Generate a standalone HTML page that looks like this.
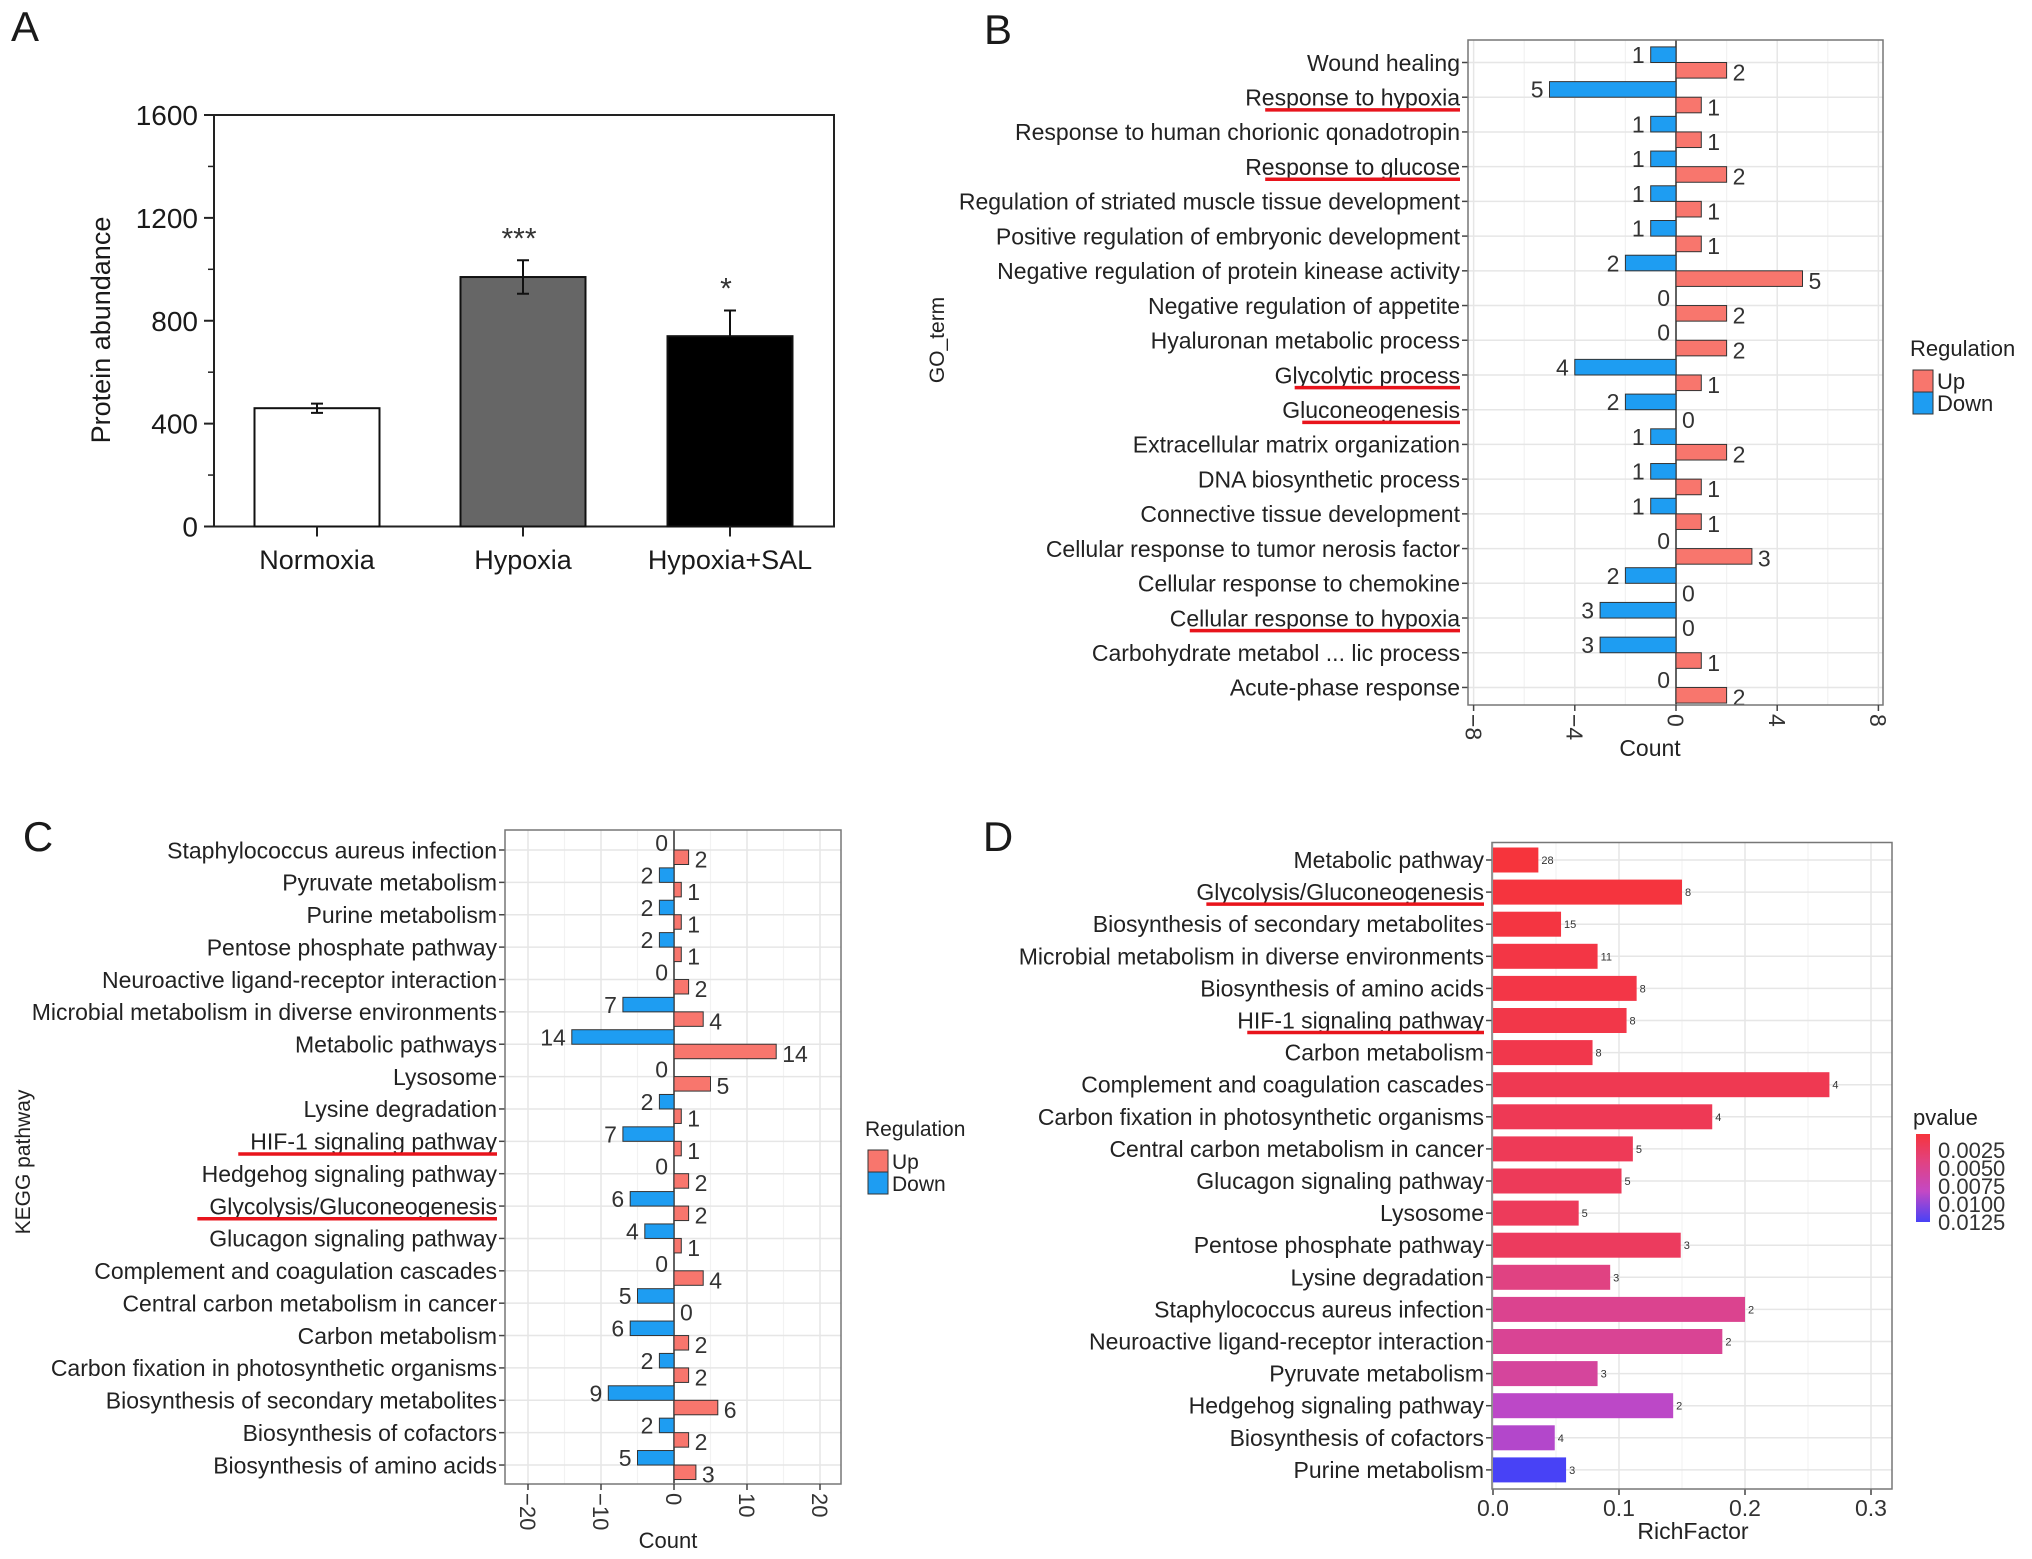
<!DOCTYPE html>
<html><head><meta charset="utf-8"><style>
html,body{margin:0;padding:0;background:#fff;}
svg{display:block;font-family:"Liberation Sans",sans-serif;}
</style></head><body>
<svg id="fig" xmlns="http://www.w3.org/2000/svg" width="2032" height="1559" viewBox="0 0 2032 1559"></svg>
<script>
// ---------- Panel A data ----------
const aCategories = ["Normoxia","Hypoxia","Hypoxia+SAL"];
const aValues = [460, 970, 740];
const aErrors = [18, 65, 100];
const aStars = ["", "***", "*"];
const aTicks = [0, 400, 800, 1200, 1600];
// ---------- Panel B data ----------
const bTerms = ["Wound healing","Response to hypoxia","Response to human chorionic qonadotropin","Response to glucose","Regulation of striated muscle tissue development","Positive regulation of embryonic development","Negative regulation of protein kinease activity","Negative regulation of appetite","Hyaluronan metabolic process","Glycolytic process","Gluconeogenesis","Extracellular matrix organization","DNA biosynthetic process","Connective tissue development","Cellular response to tumor nerosis factor","Cellular response to chemokine","Cellular response to hypoxia","Carbohydrate metabol ... lic process","Acute-phase response"];
const bDown = [1,5,1,1,1,1,2,0,0,4,2,1,1,1,0,2,3,3,0];
const bUp = [2,1,1,2,1,1,5,2,2,1,0,2,1,1,3,0,0,1,2];
const bUnderlined = ["Response to hypoxia","Response to glucose","Glycolytic process","Gluconeogenesis","Cellular response to hypoxia"];
const bTicks = [-8,-4,0,4,8];
// ---------- Panel C data ----------
const cTerms = ["Staphylococcus aureus infection","Pyruvate metabolism","Purine metabolism","Pentose phosphate pathway","Neuroactive ligand-receptor interaction","Microbial metabolism in diverse environments","Metabolic pathways","Lysosome","Lysine degradation","HIF-1 signaling pathway","Hedgehog signaling pathway","Glycolysis/Gluconeogenesis","Glucagon signaling pathway","Complement and coagulation cascades","Central carbon metabolism in cancer","Carbon metabolism","Carbon fixation in photosynthetic organisms","Biosynthesis of secondary metabolites","Biosynthesis of cofactors","Biosynthesis of amino acids"];
const cDown = [0,2,2,2,0,7,14,0,2,7,0,6,4,0,5,6,2,9,2,5];
const cUp = [2,1,1,1,2,4,14,5,1,1,2,2,1,4,0,2,2,6,2,3];
const cUnderlined = ["HIF-1 signaling pathway","Glycolysis/Gluconeogenesis"];
const cTicks = [-20,-10,0,10,20];
// ---------- Panel D data ----------
const dTerms = ["Metabolic pathway","Glycolysis/Gluconeogenesis","Biosynthesis of secondary metabolites","Microbial metabolism in diverse environments","Biosynthesis of amino acids","HIF-1 signaling pathway","Carbon metabolism","Complement and coagulation cascades","Carbon fixation in photosynthetic organisms","Central carbon metabolism in cancer","Glucagon signaling pathway","Lysosome","Pentose phosphate pathway","Lysine degradation","Staphylococcus aureus infection","Neuroactive ligand-receptor interaction","Pyruvate metabolism","Hedgehog signaling pathway","Biosynthesis of cofactors","Purine metabolism"];
const dRich = [0.036,0.150,0.054,0.083,0.114,0.106,0.079,0.267,0.174,0.111,0.102,0.068,0.149,0.093,0.200,0.182,0.083,0.143,0.049,0.058];
const dCount = [28,8,15,11,8,8,8,4,4,5,5,5,3,3,2,2,3,2,4,3];
const dP = [0.0003,0.0004,0.0006,0.0008,0.0009,0.001,0.0012,0.0015,0.0017,0.0018,0.0019,0.002,0.0022,0.0042,0.0050,0.0053,0.0058,0.0085,0.0088,0.0125];
const dUnderlined = ["Glycolysis/Gluconeogenesis","HIF-1 signaling pathway"];
const dTicks = [0,0.1,0.2,0.3];
const dLegendTicks = ["0.0025","0.0050","0.0075","0.0100","0.0125"];

const NS = "http://www.w3.org/2000/svg";
const svg = document.getElementById("fig");
function mk(tag, attrs, parent){
  const e = document.createElementNS(NS, tag);
  for (const k in attrs) e.setAttribute(k, attrs[k]);
  (parent||svg).appendChild(e);
  return e;
}
function txt(s, x, y, size, anchor, parent, extra){
  const a = {x:x, y:y, "font-size":size, "text-anchor":anchor||"start", fill:"#1a1a1a"};
  if (extra) for (const k in extra) a[k]=extra[k];
  const e = mk("text", a, parent);
  e.textContent = s;
  return e;
}
const UP="#F8766D", DOWN="#1E9DF2";

// ================= Panel letters =================
[["A",25,41],["B",998,44],["C",38,851],["D",998,851]].forEach(function(p){
  const t = txt(p[0], p[1], p[2], 42, "middle");
  
  
});

// ================= Panel A =================
(function(){
  const g = mk("g", {});
  
  
  const L=214, R=834, T=115, B=526.5, max=1600;
  const y = v => B - (v/max)*(B-T);
  const cx = [317, 523, 730];
  const fills = ["#ffffff","#666666","#000000"];
  const bw = 125;
  const frame = mk("rect",{x:L,y:T,width:R-L,height:B-T,fill:"none",stroke:"#222","stroke-width":2},g);
  
  
  aTicks.forEach(function(t){
    const l = mk("line",{x1:L-10,x2:L,y1:y(t),y2:y(t),stroke:"#222","stroke-width":2},g);
    
    
    const lb = txt(String(t), L-16, y(t)+10, 28, "end", g);
    
    
  });
  for (let t=200;t<1600;t+=400){
    const l = mk("line",{x1:L-6,x2:L,y1:y(t),y2:y(t),stroke:"#222","stroke-width":1.5},g);
    
    
  }
  aCategories.forEach(function(c,i){
    const r = mk("rect",{x:cx[i]-bw/2,y:y(aValues[i]),width:bw,height:B-y(aValues[i]),fill:fills[i],stroke:"#111","stroke-width":2},g);
    
    
    const top = y(aValues[i]+aErrors[i]);
    const bot = i===2 ? y(aValues[i]) : y(aValues[i]-aErrors[i]);
    const eb = mk("path",{d:"M"+cx[i]+" "+top+"V"+bot+"M"+(cx[i]-6)+" "+top+"H"+(cx[i]+6)+(i===2?"":"M"+(cx[i]-6)+" "+bot+"H"+(cx[i]+6)),stroke:"#111","stroke-width":2,fill:"none"},g);
    
    
    const tk = mk("line",{x1:cx[i],x2:cx[i],y1:B,y2:B+10,stroke:"#222","stroke-width":2},g);
    
    
    const lb = txt(c, cx[i], 569, 27, "middle", g);
    
    
    if (aStars[i]){
      const s = txt(aStars[i], cx[i]-4, top - 12, 30, "middle", g, {fill:"#333"});
      
      
    }
  });
  const yt = txt("Protein abundance", 0, 0, 27, "middle", g, {transform:"translate(110,330) rotate(-90)"});
  
  
})();

// ================= Diverging bar panels (B, C) =================
function diverging(opts){
  const g = mk("g", {});
  
  
  const o = opts;
  const X = v => o.x0 + v*o.unit;
  const bg = mk("rect",{x:o.L,y:o.T,width:o.R-o.L,height:o.B-o.T,fill:"#fff"},g);
  
  
  o.ticks.forEach(function(t,i){
    if (i<o.ticks.length-1){
      const m=(t+o.ticks[i+1])/2;
      const gl = mk("line",{x1:X(m),x2:X(m),y1:o.T,y2:o.B,stroke:"#f2f2f2","stroke-width":1.2},g);
      
      
    }
    const gl2 = mk("line",{x1:X(t),x2:X(t),y1:o.T,y2:o.B,stroke:"#e6e6e6","stroke-width":1.5},g);
    
    
  });
  o.terms.forEach(function(t,i){
    const yy = o.y0 + i*o.step;
    const gl = mk("line",{x1:o.L,x2:o.R,y1:yy,y2:yy,stroke:"#e6e6e6","stroke-width":1.5},g);
    
    
  });
  const zl = mk("line",{x1:X(0),x2:X(0),y1:o.T,y2:o.B,stroke:"#333","stroke-width":1.5},g);
  
  
  o.terms.forEach(function(t,i){
    const yy = o.y0 + i*o.step;
    const d = o.down[i], u = o.up[i];
    const rd = mk("rect",{x:X(-d),y:yy-o.bw,width:X(0)-X(-d),height:o.bw,fill:DOWN,stroke:"#333","stroke-width":1},g);
    
    
    const ru = mk("rect",{x:X(0),y:yy,width:X(u)-X(0),height:o.bw,fill:UP,stroke:"#333","stroke-width":1},g);
    
    
    const ld = txt(String(d), X(-d)-6, yy-o.bw/2+o.vfs*0.36, o.vfs, "end", g, {fill:"#333"});
    
    
    const lu = txt(String(u), X(u)+6, yy+o.bw/2+o.vfs*0.36+2, o.vfs, "start", g, {fill:"#333"});
    
    
    const tk = mk("line",{x1:o.L-6,x2:o.L,y1:yy,y2:yy,stroke:"#444","stroke-width":1.5},g);
    
    
    const lb = txt(t, o.L-8, yy+o.fs*0.36, o.fs, "end", g, {fill:"#222"});
    
    
    if (o.under.indexOf(t)>=0){
      const w = lb.getComputedTextLength ? lb.getComputedTextLength() : t.length*o.fs*0.5;
      const ul = mk("line",{x1:o.L-8-w-o.ulExtra,x2:o.L-8,y1:yy+o.fs*0.55,y2:yy+o.fs*0.55,stroke:"#e8141c","stroke-width":3.5},g);
      
      
    }
  });
  const fr = mk("rect",{x:o.L,y:o.T,width:o.R-o.L,height:o.B-o.T,fill:"none",stroke:"#777","stroke-width":1.5},g);
  
  
  o.ticks.forEach(function(t){
    const tk = mk("line",{x1:X(t),x2:X(t),y1:o.B,y2:o.B+6,stroke:"#444","stroke-width":1.5},g);
    
    
    const lb = txt(t<0?"\u2212"+(-t):String(t), 0, 0, o.tfs, "start", g, {fill:"#333",transform:"translate("+(X(t)-o.tfs*0.36)+","+(o.B+9)+") rotate(90)"});
    
    
  });
  const xt = txt("Count", o.xtX, o.xtY, o.tfs, "middle", g, {fill:"#222"});
  
  
  const yt = txt(o.ytitle, 0, 0, o.yfs, "middle", g, {fill:"#222",transform:"translate("+o.ytX+","+o.ytY+") rotate(-90)"});
  
  
  // legend
  const lg = mk("g",{},g);
  
  
  const lt = txt("Regulation", o.lgX, o.lgY, o.tfs-1, "start", lg, {fill:"#222"});
  
  
  [["Up",UP],["Down",DOWN]].forEach(function(e,k){
    const ry = o.lgY+14+k*22;
    const r = mk("rect",{x:o.lgX+3,y:ry,width:20,height:22,fill:e[1],stroke:"#333","stroke-width":1},lg);
    
    
    const tl = txt(e[0], o.lgX+27, ry+19, o.tfs-1, "start", lg, {fill:"#222"});
    
    
  });
}
diverging({name:"panel-b-go-terms", terms:bTerms, down:bDown, up:bUp, under:bUnderlined, ticks:bTicks,
  L:1468,R:1883,T:40,B:705,x0:1676,unit:25.3,y0:62.5,step:34.72,bw:15.6,fs:23,vfs:23,tfs:23,yfs:21,ulExtra:-20,
  xtX:1650,xtY:756,ytitle:"GO_term",ytX:944,ytY:340,lgX:1910,lgY:356});
diverging({name:"panel-c-kegg-pathways", terms:cTerms, down:cDown, up:cUp, under:cUnderlined, ticks:cTicks,
  L:505,R:841,T:830,B:1484,x0:674,unit:7.3,y0:850,step:32.37,bw:14.5,fs:23,vfs:23,tfs:22,yfs:21,ulExtra:12,
  xtX:668,xtY:1548,ytitle:"KEGG pathway",ytX:30,ytY:1162,lgX:865,lgY:1136});

// ================= Panel D =================
(function(){
  const g = mk("g", {});
  
  
  const L=1492,R=1892,T=842.5,B=1489,x0=1493,per=1260,y0=860,step=32.1,bh=25;
  const X = v => x0 + v*per;
  const pMin=0.0003,pMax=0.0125;
  const stops=[[0,[246,52,60]],[0.3,[226,66,126]],[0.65,[196,72,196]],[1,[72,66,246]]];
  function col(p){
    let t=(p-pMin)/(pMax-pMin); t=Math.max(0,Math.min(1,t));
    for(let k=0;k<stops.length-1;k++){
      if(t<=stops[k+1][0]){
        const f=(t-stops[k][0])/(stops[k+1][0]-stops[k][0]);
        const a=stops[k][1], b=stops[k+1][1];
        return "rgb("+a.map((v,j)=>Math.round(v+(b[j]-v)*f)).join(",")+")";
      }
    }
    return "rgb(72,66,246)";
  }
  dTicks.forEach(function(t,i){
    const m=t+0.05;
    if (X(m)<R){
      const gl = mk("line",{x1:X(m),x2:X(m),y1:T,y2:B,stroke:"#f2f2f2","stroke-width":1.2},g);
      
      
    }
    const gl2 = mk("line",{x1:X(t),x2:X(t),y1:T,y2:B,stroke:"#e6e6e6","stroke-width":1.5},g);
    
    
    const tk = mk("line",{x1:X(t),x2:X(t),y1:B,y2:B+6,stroke:"#444","stroke-width":1.5},g);
    
    
    const lb = txt(t.toFixed(1), X(t), 1516, 23, "middle", g, {fill:"#333"});
    
    
  });
  dTerms.forEach(function(t,i){
    const yy=y0+i*step;
    const gl = mk("line",{x1:L,x2:R,y1:yy,y2:yy,stroke:"#e6e6e6","stroke-width":1.5},g);
    
    
    const r = mk("rect",{x:X(0),y:yy-bh/2,width:X(dRich[i])-X(0),height:bh,fill:col(dP[i])},g);
    
    
    const cl = txt(String(dCount[i]), X(dRich[i])+3, yy+4, 11, "start", g, {fill:"#333"});
    
    
    const tk = mk("line",{x1:L-6,x2:L,y1:yy,y2:yy,stroke:"#444","stroke-width":1.5},g);
    
    
    const lb = txt(t, L-8, yy+8, 23, "end", g, {fill:"#222"});
    
    
    if (dUnderlined.indexOf(t)>=0){
      const w = lb.getComputedTextLength();
      const ul = mk("line",{x1:L-8-w+10,x2:L-8,y1:yy+12,y2:yy+12,stroke:"#e8141c","stroke-width":3.5},g);
      
      
    }
  });
  const fr = mk("rect",{x:L,y:T,width:R-L,height:B-T,fill:"none",stroke:"#777","stroke-width":1.5},g);
  
  
  const xt = txt("RichFactor", 1693, 1539, 23, "middle", g, {fill:"#222"});
  
  
  // colorbar legend
  const defs = mk("defs",{},g);
  const lgd = mk("linearGradient",{id:"pgrad",x1:0,y1:0,x2:0,y2:1},defs);
  stops.forEach(function(s){ mk("stop",{offset:s[0],"stop-color":"rgb("+s[1].join(",")+")"},lgd); });
  const lt = txt("pvalue", 1913, 1125, 22, "start", g, {fill:"#222"});
  
  
  const cbT=1134, cbH=88;
  const cb = mk("rect",{x:1916,y:cbT,width:14,height:cbH,fill:"url(#pgrad)"},g);
  
  
  dLegendTicks.forEach(function(s){
    const v=parseFloat(s);
    const yy=cbT+(v-pMin)/(pMax-pMin)*cbH;
    const lb = txt(s, 1938, yy+8, 22, "start", g, {fill:"#333"});
    
    
  });
})();
</script>
</body></html>
